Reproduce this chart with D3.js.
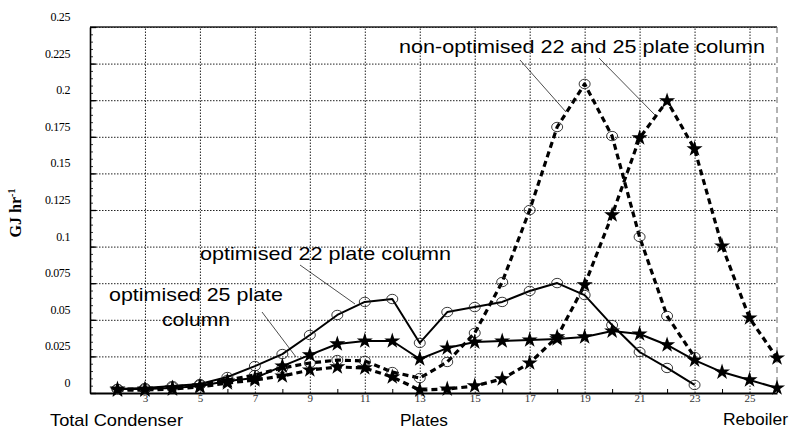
<!DOCTYPE html>
<html>
<head>
<meta charset="utf-8">
<script src="https://cdn.jsdelivr.net/npm/d3@7"></script>
<style>
  html, body { margin: 0; padding: 0; background: #fff; }
  svg { display: block; }
</style>
</head>
<body>
<svg id="chart" width="790" height="430"></svg>
<script>
// ---------- data ----------
const plates22 = [2,3,4,5,6,7,8,9,10,11,12,13,14,15,16,17,18,19,20,21,22,23];
const plates25 = [2,3,4,5,6,7,8,9,10,11,12,13,14,15,16,17,18,19,20,21,22,23,24,25,26];

// optimised 22 plate column (solid, open circles)
const opt22 = [0.0027,0.0034,0.0048,0.0061,0.0109,0.0184,0.0266,0.0396,0.0533,0.0622,0.0642,
               0.0342,0.0553,0.0587,0.0622,0.0697,0.0751,0.0669,0.0464,0.0280,0.0171,0.0055];
// optimised 25 plate column (solid, stars)
const opt25 = [0.0027,0.0027,0.0034,0.0048,0.0082,0.0102,0.0184,0.0260,0.0335,0.0355,0.0355,
               0.0232,0.0307,0.0348,0.0355,0.0362,0.0369,0.0383,0.0423,0.0403,0.0328,0.0225,
               0.0143,0.0089,0.0034];
// non-optimised 22 plate column (dashed, open circles)
const nonOpt22 = [0.0027,0.0027,0.0041,0.0055,0.0089,0.0123,0.0171,0.0205,0.0225,0.0219,0.0143,
                  0.0102,0.0212,0.0410,0.0758,0.1250,0.1817,0.2111,0.1755,0.1066,0.0526,0.0246];
// non-optimised 25 plate column (dashed, stars)
const nonOpt25 = [0.0020,0.0020,0.0027,0.0041,0.0068,0.0089,0.0116,0.0157,0.0178,0.0171,0.0109,
                  0.0020,0.0027,0.0048,0.0096,0.0205,0.0383,0.0738,0.1216,0.1742,0.1995,0.1667,
                  0.1004,0.0512,0.0239];

const yTicks = [0,0.025,0.05,0.075,0.1,0.125,0.15,0.175,0.2,0.225,0.25];
const yTickLabels = ["0","0.025","0.05","0.075","0.1","0.125","0.15","0.175","0.2","0.225","0.25"];
const xTicks = [3,5,7,9,11,13,15,17,19,21,23,25];
const xMinorTicks = [2,4,6,8,10,12,14,16,18,20,22,24,26];

// ---------- layout ----------
const svg = d3.select("#chart");
const L = 90, R = 777, T = 27, B = 393;
const x = d3.scaleLinear().domain([1, 26]).range([L, R]);
const y = d3.scaleLinear().domain([0, 0.25]).range([B, T]);

// grid
const grid = svg.append("g");
grid.append("g")
  .attr("transform", `translate(${L},0)`)
  .call(d3.axisLeft(y).tickValues(yTicks.slice(1)).tickSize(-(R - L)).tickFormat(""))
  .call(g => g.select(".domain").remove())
  .call(g => g.selectAll("line").attr("stroke", "#222").attr("stroke-width", 1).attr("stroke-dasharray", "1.5,1.5"));
grid.append("g")
  .attr("transform", `translate(0,${B})`)
  .call(d3.axisBottom(x).tickValues(xTicks).tickSize(-(B - T)).tickFormat(""))
  .call(g => g.select(".domain").remove())
  .call(g => g.selectAll("line").attr("stroke", "#222").attr("stroke-width", 1).attr("stroke-dasharray", "1.5,1.5"));

// frame: top solid, right faint dashed
svg.append("line").attr("x1", L).attr("x2", R).attr("y1", T).attr("y2", T)
  .attr("stroke", "#222").attr("stroke-width", 1.5);
svg.append("line").attr("x1", R).attr("x2", R).attr("y1", T).attr("y2", B)
  .attr("stroke", "#666").attr("stroke-width", 1).attr("stroke-dasharray", "6,4");

// y axis with labels (labels sit a little above their gridlines, as in the scan)
const yAxis = svg.append("g")
  .attr("transform", `translate(${L},0)`)
  .call(d3.axisLeft(y).tickValues(yTicks).tickSize(0).tickPadding(20)
        .tickFormat((d, i) => yTickLabels[i]));
yAxis.select(".domain").attr("stroke", "#000").attr("stroke-width", 1.6);
yAxis.selectAll("text")
  .attr("font-family", "'Liberation Serif', 'DejaVu Serif', serif")
  .attr("font-size", 12).attr("fill", "#000")
  .attr("dy", "-0.55em").attr("letter-spacing", -0.4);
// inward tick marks on y axis
svg.append("g").attr("transform", `translate(${L},0)`)
  .call(d3.axisRight(y).tickValues(yTicks).tickSize(6).tickFormat(""))
  .call(g => g.select(".domain").remove())
  .call(g => g.selectAll("line").attr("stroke", "#000").attr("stroke-width", 1.3));
svg.append("g").attr("transform", `translate(${L},0)`)
  .call(d3.axisRight(y).ticks(50).tickSize(3).tickFormat(""))
  .call(g => g.select(".domain").remove())
  .call(g => g.selectAll("line").attr("stroke", "#000").attr("stroke-width", 0.8));

// x axis
const xAxis = svg.append("g")
  .attr("transform", `translate(0,${B})`)
  .call(d3.axisBottom(x).tickValues(xTicks).tickSize(0).tickPadding(1).tickFormat(d3.format("d")));
xAxis.select(".domain").attr("stroke", "#000").attr("stroke-width", 2);
xAxis.selectAll("text")
  .attr("font-family", "'Liberation Serif', 'DejaVu Serif', serif")
  .attr("font-size", 11).attr("fill", "#333");
svg.append("g").attr("transform", `translate(0,${B})`)
  .call(d3.axisTop(x).tickValues(xMinorTicks).tickSize(4).tickFormat(""))
  .call(g => g.select(".domain").remove())
  .call(g => g.selectAll("line").attr("stroke", "#000").attr("stroke-width", 1));

// ---------- series ----------
const series = [
  { xs: plates22, ys: nonOpt22, dashed: true,  marker: "circle" },
  { xs: plates25, ys: nonOpt25, dashed: true,  marker: "star" },
  { xs: plates22, ys: opt22,    dashed: false, marker: "circle" },
  { xs: plates25, ys: opt25,    dashed: false, marker: "star" }
];
const line = d3.line().x(d => x(d[0])).y(d => y(d[1]));
const star = d3.symbol().type(d3.symbolStar).size(80);

series.forEach(s => {
  const pts = s.xs.map((p, i) => [p, s.ys[i]]);
  svg.append("path").datum(pts)
    .attr("d", line).attr("fill", "none").attr("stroke", "#000")
    .attr("stroke-width", s.dashed ? 3.2 : 2)
    .attr("stroke-dasharray", s.dashed ? "6,4" : null)
    .attr("stroke-linejoin", "round");
  const g = svg.append("g");
  if (s.marker === "circle") {
    g.selectAll("ellipse").data(pts).join("ellipse")
      .attr("cx", d => x(d[0])).attr("cy", d => y(d[1]))
      .attr("rx", 5.5).attr("ry", 4.7)
      .attr("fill", "none").attr("stroke", "#222").attr("stroke-width", 0.9);
  } else {
    g.selectAll("path").data(pts).join("path")
      .attr("d", star)
      .attr("transform", d => `translate(${x(d[0])},${y(d[1])})`)
      .attr("fill", "#000");
  }
});

// ---------- annotations ----------
const sans = "'Liberation Sans', Arial, Helvetica, sans-serif";
function label(txt, tx, ty, w, size, anchor) {
  svg.append("text").attr("x", tx).attr("y", ty)
    .attr("font-family", sans).attr("font-size", size).attr("fill", "#000")
    .attr("text-anchor", anchor || "start")
    .attr("textLength", w).attr("lengthAdjust", "spacingAndGlyphs")
    .text(txt);
}
label("non-optimised 22 and 25 plate column", 399, 53, 366, 19);
label("optimised 22 plate column", 200, 260, 251, 19);
label("optimised 25 plate", 109, 301, 174, 19);
label("column", 162, 326, 68, 19);

const leaders = [
  [520, 60, 566, 112],
  [599, 58, 655, 115],
  [300, 265, 355, 304],
  [262, 312, 296, 357]
];
leaders.forEach(l => svg.append("line")
  .attr("x1", l[0]).attr("y1", l[1]).attr("x2", l[2]).attr("y2", l[3])
  .attr("stroke", "#000").attr("stroke-width", 0.7));

// axis titles
label("Total Condenser", 50, 426, 133, 17);
label("Plates", 400, 426, 48, 17);
label("Reboiler", 723, 425, 65, 17);

const yt = svg.append("text")
  .attr("transform", "translate(21,213) rotate(-90)")
  .attr("text-anchor", "middle")
  .attr("font-family", "'Liberation Serif', 'DejaVu Serif', serif")
  .attr("font-size", 16).attr("font-weight", "bold");
yt.append("tspan").text("GJ hr");
yt.append("tspan").attr("dy", -6).attr("font-size", 10).text("-1");
</script>
</body>
</html>
